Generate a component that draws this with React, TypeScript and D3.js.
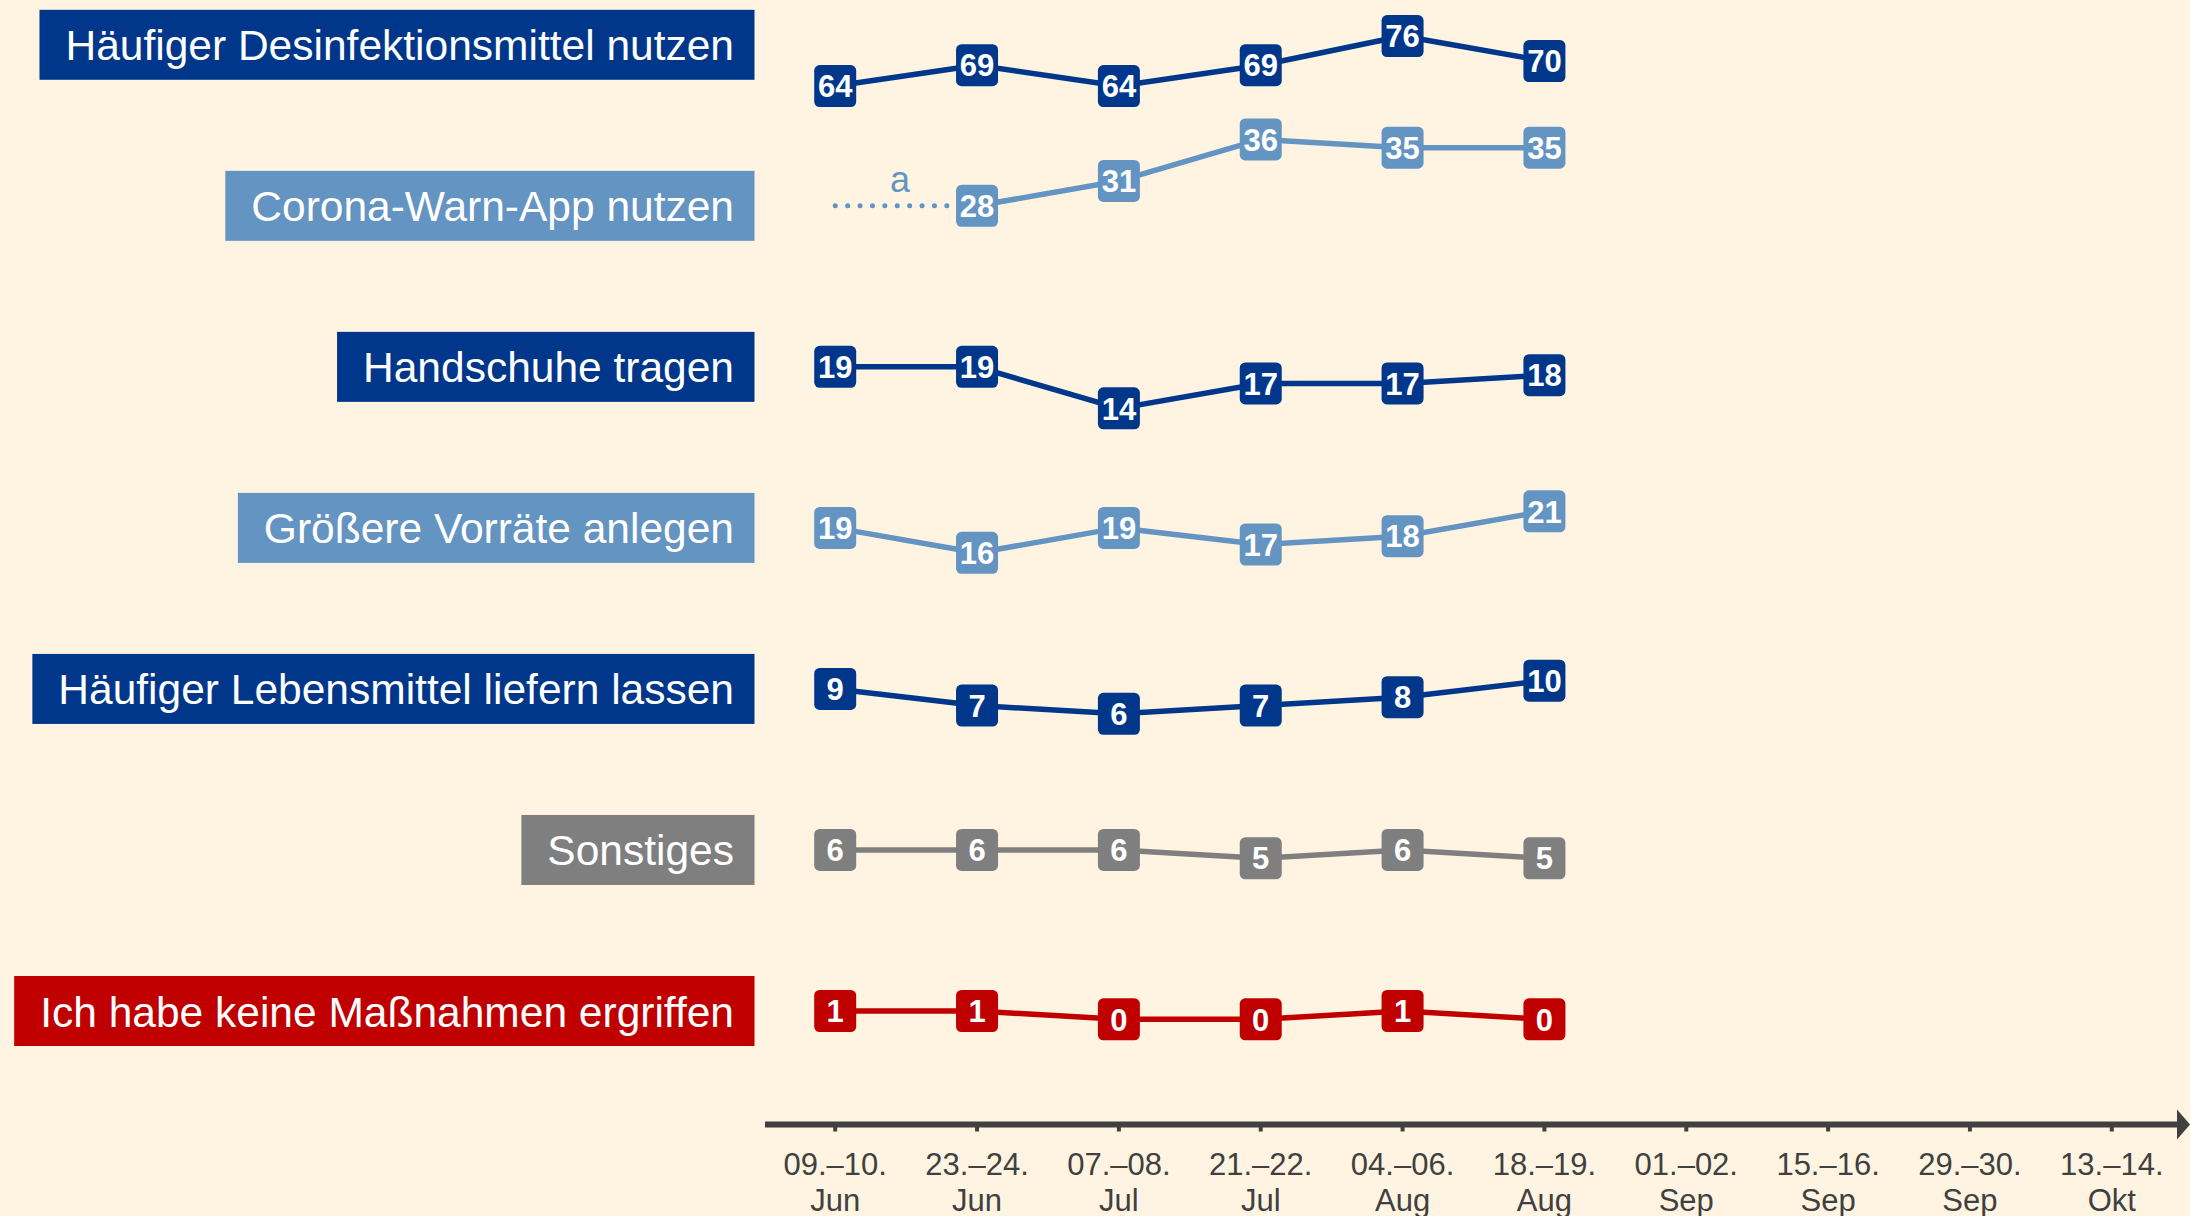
import React, { useMemo, useEffect } from "react";
import * as d3 from "d3";

const W = 2190;
const H = 1216;

const periodDays = ["09.–10.", "23.–24.", "07.–08.", "21.–22.", "04.–06.", "18.–19.", "01.–02.", "15.–16.", "29.–30.", "13.–14."];
const periodMonths = ["Jun", "Jun", "Jul", "Jul", "Aug", "Aug", "Sep", "Sep", "Sep", "Okt"];

const seriesNames = [
  "Häufiger Desinfektionsmittel nutzen",
  "Corona-Warn-App nutzen",
  "Handschuhe tragen",
  "Größere Vorräte anlegen",
  "Häufiger Lebensmittel liefern lassen",
  "Sonstiges",
  "Ich habe keine Maßnahmen ergriffen",
];

const desinfektion = [64, 69, 64, 69, 76, 70];
const warnApp: (number | null)[] = [null, 28, 31, 36, 35, 35];
const handschuhe = [19, 19, 14, 17, 17, 18];
const vorraete = [19, 16, 19, 17, 18, 21];
const lebensmittel = [9, 7, 6, 7, 8, 10];
const sonstiges = [6, 6, 6, 5, 6, 5];
const keine = [1, 1, 0, 0, 1, 0];

const seriesValues: (number | null)[][] = [desinfektion, warnApp, handschuhe, vorraete, lebensmittel, sonstiges, keine];
const seriesColors = ["#00378A", "#6494C2", "#00378A", "#6494C2", "#00378A", "#7F7F7F", "#C00000"];
// value aligned with each row's centre line, and pixels per percentage point
const rowRef = [73.9, 28, 19, 19, 9, 6, 1];
const rowUnit = [4.17, 8.3, 8.3, 8.3, 8.3, 8.3, 8.3];

const FONT = "'Liberation Sans', Arial, Helvetica, sans-serif";
const BG = "#FFF4E2";
const AXIS = "#404040";
const LABEL_SIZE = 42.5;

export default function App() {
  useEffect(() => {
    document.body.style.margin = "0";
    document.body.style.background = BG;
  }, []);

  const x = d3.scalePoint<number>().domain(d3.range(periodDays.length)).range([835.2, 2111.8]);
  const rowY = d3.scalePoint<string>().domain(seriesNames).range([44.8, 1011]);

  const labelWidths = useMemo(() => {
    const c = document.createElement("canvas").getContext("2d")!;
    c.font = `${LABEL_SIZE}px ${FONT}`;
    return seriesNames.map((n) => c.measureText(n).width);
  }, []);

  const axisY = 1124.5;
  const boxW = 42;
  const boxH = 42;

  return (
    <svg width={W} height={H} style={{ position: "absolute", left: 0, top: 0, background: BG }} fontFamily={FONT}>
      <rect x={0} y={0} width={W} height={H} fill={BG} />

      {seriesNames.map((name, i) => {
        const cy = rowY(name)!;
        const y = d3.scaleLinear().domain([rowRef[i], rowRef[i] + 1]).range([cy, cy - rowUnit[i]]);
        const vals = seriesValues[i];
        const pts = vals.map((v, j) => ({ v, j })).filter((p) => p.v !== null) as { v: number; j: number }[];
        const line = d3
          .line<{ v: number; j: number }>()
          .x((p) => x(p.j)!)
          .y((p) => y(p.v));
        const color = seriesColors[i];
        const tw = labelWidths[i];
        const textRight = 734;
        const boxLeft = textRight - tw - 26;
        const firstIdx = pts[0].j;
        return (
          <g key={name}>
            <rect x={boxLeft} y={cy - 35} width={754.5 - boxLeft} height={70} fill={color} />
            <text x={textRight} y={cy + 15.5} textAnchor="end" fontSize={LABEL_SIZE} fill="#fff">
              {name}
            </text>
            {firstIdx > 0 && (
              <g>
                <line
                  x1={x(0)!}
                  x2={x(firstIdx)!}
                  y1={y(pts[0].v)}
                  y2={y(pts[0].v)}
                  stroke={color}
                  strokeWidth={5}
                  strokeLinecap="round"
                  strokeDasharray="0.1 12.3"
                />
                <text x={(x(0)! + x(firstIdx)!) / 2 - 6} y={y(pts[0].v) - 14} textAnchor="middle" fontSize={36} fill={color}>
                  a
                </text>
              </g>
            )}
            <path d={line(pts)!} fill="none" stroke={color} strokeWidth={5.5} strokeLinejoin="round" />
            {pts.map((p) => (
              <g key={p.j}>
                <rect x={x(p.j)! - boxW / 2} y={y(p.v) - boxH / 2} width={boxW} height={boxH} rx={5.5} fill={color} />
                <text x={x(p.j)!} y={y(p.v) + 11.2} textAnchor="middle" fontSize={31} fontWeight="bold" fill="#fff">
                  {p.v}
                </text>
              </g>
            ))}
          </g>
        );
      })}

      <line x1={765} x2={2180} y1={axisY} y2={axisY} stroke={AXIS} strokeWidth={6} />
      <path d={`M2177,${axisY - 15} L2190,${axisY} L2177,${axisY + 15} Z`} fill={AXIS} />
      {periodDays.map((d, i) => (
        <g key={i}>
          <line x1={x(i)!} x2={x(i)!} y1={axisY} y2={axisY + 7} stroke={AXIS} strokeWidth={4} />
          <text x={x(i)!} y={1175} textAnchor="middle" fontSize={31} fill={AXIS}>
            {d}
          </text>
          <text x={x(i)!} y={1210.5} textAnchor="middle" fontSize={31} fill={AXIS}>
            {periodMonths[i]}
          </text>
        </g>
      ))}
    </svg>
  );
}
